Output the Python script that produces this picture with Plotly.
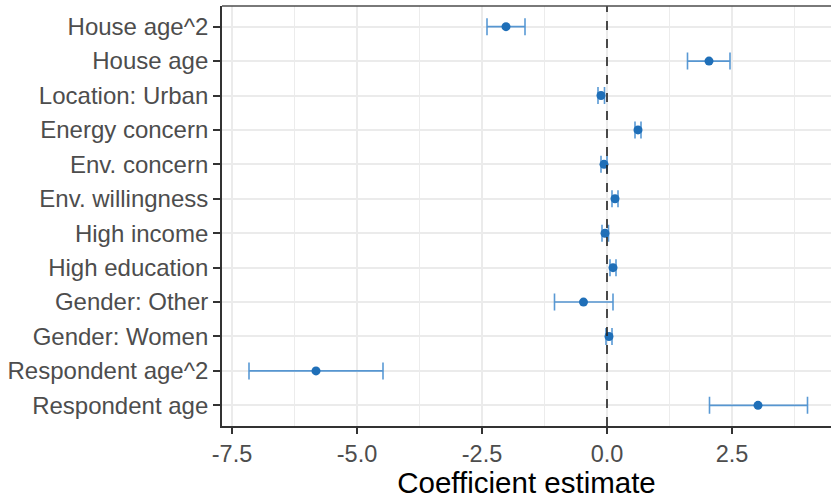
import plotly.graph_objects as go

# ---- data ----
terms = ["House age^2", "House age", "Location: Urban", "Energy concern",
         "Env. concern", "Env. willingness", "High income", "High education",
         "Gender: Other", "Gender: Women", "Respondent age^2", "Respondent age"]
estimate = [-2.02, 2.04, -0.12, 0.62, -0.06, 0.16, -0.04, 0.12, -0.47, 0.04, -5.82, 3.02]
ci_low = [-2.40, 1.61, -0.18, 0.56, -0.12, 0.10, -0.10, 0.06, -1.05, -0.02, -7.16, 2.05]
ci_high = [-1.64, 2.46, -0.05, 0.68, 0.00, 0.22, 0.03, 0.18, 0.12, 0.10, -4.48, 4.01]
x_ticks = [-7.5, -5.0, -2.5, 0.0, 2.5]
x_tick_labels = ["-7.5", "-5.0", "-2.5", "0.0", "2.5"]
reference_x = 0.0

err_plus = [h - e for h, e in zip(ci_high, estimate)]
err_minus = [e - l for e, l in zip(estimate, ci_low)]

FONT = "Liberation Sans, Arial, sans-serif"
W, H = 831, 499
ML, MR, MT, MB = 222, 0, 6, 73

fig = go.Figure()
fig.add_trace(go.Scatter(
    x=estimate, y=terms, mode="markers",
    marker=dict(color="#1f6fb8", size=9),
    error_x=dict(type="data", symmetric=False, array=err_plus, arrayminus=err_minus,
                 color="rgba(60,135,205,0.85)", thickness=1.6, width=8.5),
    showlegend=False, hoverinfo="skip",
))

# dashed reference line at zero
fig.add_shape(type="line", xref="x", yref="paper", x0=reference_x, x1=reference_x,
              y0=0, y1=1, line=dict(color="#222222", width=1.6, dash="dash"), layer="above")
# top panel border
fig.add_shape(type="line", xref="paper", yref="paper", x0=0, x1=1, y0=1, y1=1,
              line=dict(color="#4d4d4d", width=1.5), layer="above")

fig.update_layout(
    width=W, height=H,
    margin=dict(l=ML, r=MR, t=MT, b=MB, pad=0, autoexpand=False),
    paper_bgcolor="white", plot_bgcolor="white",
    font=dict(family=FONT, color="#4d4d4d", size=23),
)
fig.update_xaxes(
    range=[-7.70, 4.48], tickmode="array", tickvals=x_ticks, ticktext=x_tick_labels,
    showgrid=True, gridcolor="#ebebeb", gridwidth=1.5, zeroline=False,
    minor=dict(dtick=1.25, tick0=0, showgrid=True, gridcolor="#ececec", gridwidth=1.2),
    showline=True, linecolor="#333333", linewidth=1.8,
    ticks="outside", ticklen=6, tickwidth=1.6, tickcolor="#333333",
    tickfont=dict(family=FONT, size=23.5, color="#4d4d4d"),
    title=dict(text="Coefficient estimate", font=dict(family=FONT, size=29.5, color="#000000"), standoff=5),
    automargin=False,
)
fig.update_yaxes(
    type="category", categoryorder="array", categoryarray=terms[::-1],
    range=[-0.6, 11.6],
    showgrid=True, gridcolor="#ebebeb", gridwidth=1.5, zeroline=False,
    showline=True, linecolor="#333333", linewidth=1.8,
    ticks="outside", ticklen=7, tickwidth=1.6, tickcolor="#333333",
    tickfont=dict(family=FONT, size=24, color="#4d4d4d"),
    automargin=False,
)

fig.write_html("out.html")
